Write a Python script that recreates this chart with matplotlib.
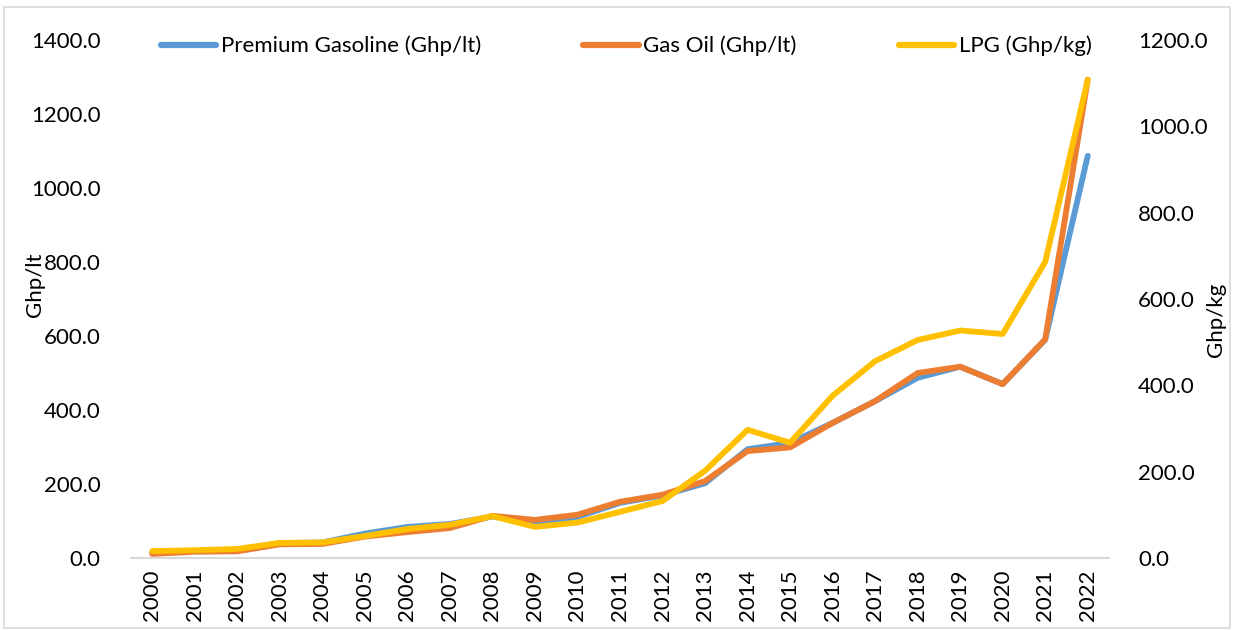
import matplotlib
matplotlib.use("Agg")
import matplotlib.pyplot as plt
from matplotlib.patches import Rectangle

years = [str(y) for y in range(2000, 2023)]
gasoline = [15, 19, 20, 40, 42, 66, 84, 92, 112, 95, 111, 149, 169, 202, 294, 311, 365, 424, 487, 517, 470, 590, 1087]
gas_oil = [11, 17, 18, 37, 38, 58, 70, 81, 114, 103, 117, 152, 171, 208, 289, 299, 365, 424, 500, 517, 470, 591, 1293]
lpg = [16, 18, 21, 35, 36, 51, 67, 77, 97, 72, 82, 107, 132, 202, 297, 267, 376, 456, 505, 527, 519, 686, 1108]

c_blue = "#5B9BD5"
c_orange = "#ED7D31"
c_yellow = "#FFC000"
fnt = "Lato"
fs = 16
lw = 4.2

plt.rcParams['font.family'] = [fnt, 'DejaVu Sans']

fig = plt.figure(figsize=(12.34, 6.30), dpi=100)
fig.patches.append(Rectangle((0.003, 0.003), 0.994, 0.986, transform=fig.transFigure,
                             fill=False, edgecolor="#D9D9D9", linewidth=1.2))

ax = fig.add_axes([131/1234, 1-558/630, (1109-131)/1234, (558-40)/630])
ax2 = ax.twinx()

x = list(range(len(years)))
l1, = ax.plot(x, gasoline, color=c_blue, lw=lw, solid_capstyle='round', solid_joinstyle='round', label="Premium Gasoline (Ghp/lt)")
l2, = ax.plot(x, gas_oil, color=c_orange, lw=lw, solid_capstyle='round', solid_joinstyle='round', label="Gas Oil (Ghp/lt)")
l3, = ax2.plot(x, lpg, color=c_yellow, lw=lw, solid_capstyle='round', solid_joinstyle='round', label="LPG (Ghp/kg)")

ax.set_xlim(-0.5, len(years) - 0.5)
ax.set_ylim(0, 1400)
ax2.set_ylim(0, 1200)
ax.set_yticks(range(0, 1401, 200))
ax.set_yticklabels([f"{v:.1f}" for v in range(0, 1401, 200)], fontsize=fs)
ax2.set_yticks(range(0, 1201, 200))
ax2.set_yticklabels([f"{v:.1f}" for v in range(0, 1201, 200)], fontsize=fs)
ax.set_xticks(x)
ax.set_xticklabels(years, rotation=90, fontsize=fs)

for a in (ax, ax2):
    for s in a.spines.values():
        s.set_visible(False)
    a.tick_params(length=0)
ax.spines['bottom'].set_visible(True)
ax.spines['bottom'].set_color("#D9D9D9")
ax.spines['bottom'].set_linewidth(1.5)
ax.tick_params(axis='y', pad=22)
ax.tick_params(axis='x', pad=8)
ax2.tick_params(axis='y', pad=21)

ax.set_ylabel("Ghp/lt", fontsize=fs, rotation=90, va='center', ha='center')
ax2.set_ylabel("Ghp/kg", fontsize=fs, rotation=90, va='center', ha='center')
ax.yaxis.set_label_coords((35 - 131) / 978, (558 - 285) / 518)
ax2.yaxis.set_label_coords((1216 - 131) / 978, (558 - 320) / 518)

leg = fig.legend(handles=[l1, l2, l3], loc='center left', bbox_to_anchor=(161/1234, 1-46/630),
                 ncol=3, frameon=False, fontsize=fs, borderpad=0, borderaxespad=0,
                 handlelength=2.48, handletextpad=0.22, columnspacing=4.6)
for h in leg.get_lines():
    h.set_linewidth(4.5)

fig.savefig("out.png", dpi=100)
